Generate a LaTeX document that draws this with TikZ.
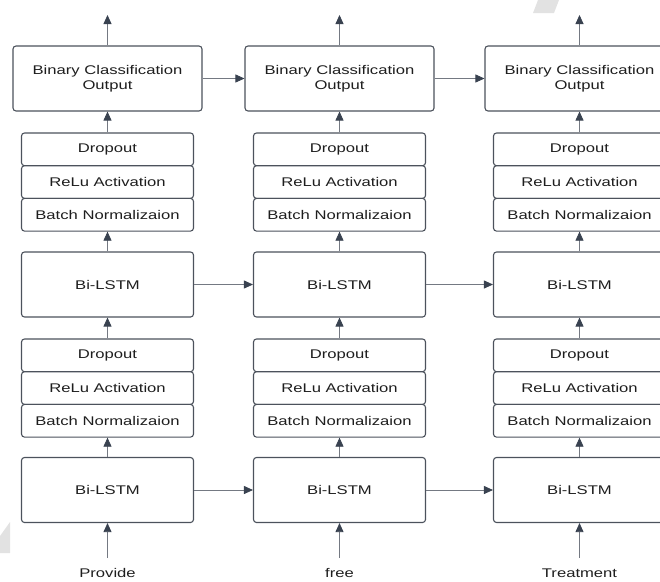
\documentclass[tikz,border=0pt]{standalone}
\usepackage{fontspec}
\setmainfont{Liberation Sans}[FakeStretch=1.32]
\usetikzlibrary{arrows.meta}
\definecolor{boxline}{HTML}{4C525C}
\definecolor{arrline}{HTML}{747982}
\definecolor{arrhead}{HTML}{394250}
\definecolor{txt}{HTML}{1E1E1E}
\definecolor{wm}{HTML}{E2E2E2}
\tikzset{
  box/.style={draw=boxline, line width=1.1pt, rounded corners=3pt, fill=white,
    text=txt, align=center, inner sep=0pt,
    font=\fontsize{12.6}{15}\selectfont},
  outbox/.style={box, minimum width=189pt, minimum height=65pt},
  lstm/.style={box, minimum width=172pt, minimum height=65pt},
  layer/.style={box, minimum width=172pt, minimum height=32.7pt},
  arr/.style={draw=arrline, line width=0.8pt, -{Triangle[length=9pt,width=8pt,color=arrhead]}},
  word/.style={text=txt, font=\fontsize{12.6}{15}\selectfont, inner sep=0pt},
}
\begin{document}
\begin{tikzpicture}[x=1pt,y=-1pt]
\useasboundingbox (0,0) rectangle (660,581);
\clip (0,0) rectangle (660,581);
% watermark fragments
\fill[wm] (538,0) -- (559,0) -- (554,13) -- (533,13) -- cycle;
\fill[wm] (0,536) -- (10,522) -- (10,553) -- (0,553) -- cycle;
% columns
\foreach \i/\c/\w in {1/107.5/Provide, 2/339.5/free, 3/579.5/Treatment}{
  \node[outbox] (bin\i) at (\c,78.5) {Binary Classification\\Output};
  \node[layer] (dA\i) at (\c,149.35) {Dropout};
  \node[layer] (rA\i) at (\c,182.05) {ReLu Activation};
  \node[layer] (nA\i) at (\c,214.75) {Batch Normalizaion};
  \node[lstm] (lA\i) at (\c,284.5) {Bi-LSTM};
  \node[layer] (dB\i) at (\c,355.35) {Dropout};
  \node[layer] (rB\i) at (\c,388.05) {ReLu Activation};
  \node[layer] (nB\i) at (\c,420.75) {Batch Normalizaion};
  \node[lstm] (lB\i) at (\c,490) {Bi-LSTM};
  \node[word] (in\i) at (\c,573) {\w};
  \coordinate (top\i) at (\c,15);
  \coordinate (src\i) at (\c,558);
  \draw[arr] (bin\i.north) -- (top\i);
  \draw[arr] (dA\i.north) -- (bin\i.south);
  \draw[arr] (lA\i.north) -- (nA\i.south);
  \draw[arr] (dB\i.north) -- (lA\i.south);
  \draw[arr] (lB\i.north) -- (nB\i.south);
  \draw[arr] (src\i) -- (lB\i.south);
}
\foreach \a/\b in {1/2,2/3}{
  \draw[arr] (bin\a.east) -- (bin\b.west);
  \draw[arr] (lA\a.east) -- (lA\b.west);
  \draw[arr] (lB\a.east) -- (lB\b.west);
}
\end{tikzpicture}
\end{document}
